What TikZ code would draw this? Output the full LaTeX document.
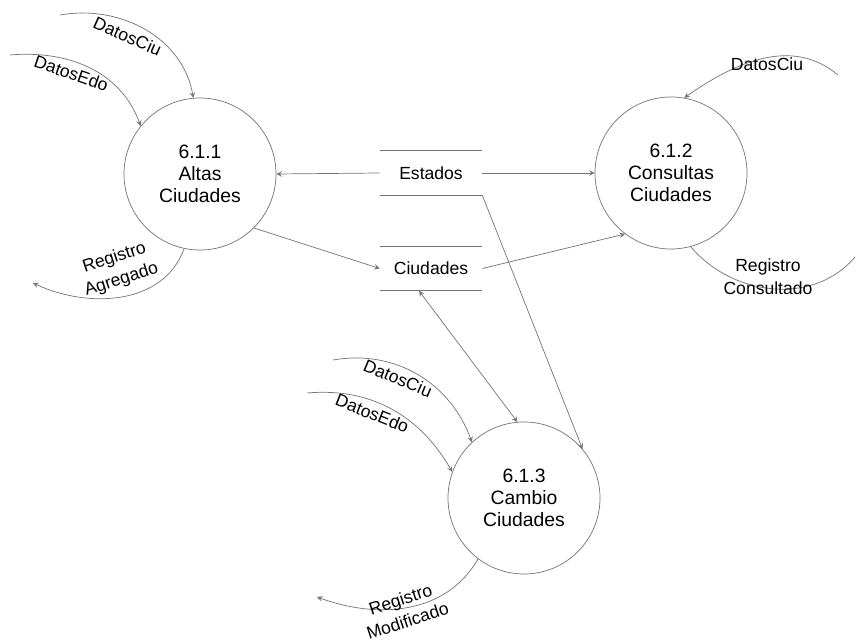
\documentclass[tikz,border=0pt]{standalone}
\usepackage{fontspec}
\setmainfont{Liberation Sans}
\usepackage{tikz}
\usetikzlibrary{arrows, positioning}
\tikzstyle{process} = [circle, draw=black!55, minimum size=3.04cm, inner sep=0pt, align=center, font=\fontsize{11}{12.5}\selectfont]
\tikzstyle{store} = [minimum width=2.04cm, minimum height=0.88cm, font=\fontsize{10}{12}\selectfont]
\tikzstyle{flow} = [draw=black!55, ->, >=stealth]
\tikzstyle{lbl} = [font=\fontsize{10}{13}\selectfont, align=center, inner sep=1pt]

\begin{document}
\begin{tikzpicture}
\useasboundingbox (0,0) rectangle (17.12,12.84);

% Processes
\node[process] (altas) at (4.00,9.36) {6.1.1\\Altas\\Ciudades};
\node[process] (consultas) at (13.42,9.38) {6.1.2\\Consultas\\Ciudades};
\node[process] (cambio) at (10.48,2.88) {6.1.3\\Cambio\\Ciudades};

% Data stores
\node[store] (estados) at (8.62,9.38) {Estados};
\node[store] (ciudades) at (8.62,7.47) {Ciudades};
\foreach \s in {estados, ciudades} {
  \draw[black!55] (\s.north west) -- (\s.north east);
  \draw[black!55] (\s.south west) -- (\s.south east);
}

% Flows between processes and stores
\draw[flow] (estados.west) -- (altas.east);
\draw[flow] (estados.east) -- (consultas.west);
\draw[flow] (altas.-45) -- (ciudades.west);
\draw[flow] (ciudades.east) -- (consultas.233);
\draw[flow] (estados.south east) -- (cambio.40);
\draw[flow, <->] ([xshift=-0.24cm]ciudades.south) -- (cambio.95);

% Flows of 6.1.1
\coordinate (a1) at (1.20,12.54);
\coordinate (a2) at (0.20,11.74);
\coordinate (a3) at (0.66,7.18);
\draw[flow] (a1) to[out=10,in=100] node[lbl, sloped, below=3pt, pos=0.42] {DatosCiu} (altas.95);
\draw[flow] (a2) to[out=5,in=110] node[lbl, sloped, below=2pt, pos=0.4] {DatosEdo} (altas.141);
\draw[flow] (altas.258) to[out=250,in=-25] (a3);
\node[lbl, rotate=18] (agregado) at (2.36,7.46) {Registro\\Agregado};

% Flows of 6.1.2
\coordinate (c1) at (16.76,11.34);
\coordinate (c2) at (17.10,7.70);
\draw[flow] (c1) to[out=140,in=35] (consultas.80);
\node[lbl] (datosciu2) at (15.34,11.56) {DatosCiu};
\draw[black!55] (consultas.-75) to[out=-50,in=230] (c2);
\node[lbl] (consultado) at (15.36,7.30) {Registro\\Consultado};

% Flows of 6.1.3
\coordinate (m1) at (6.66,5.64);
\coordinate (m2) at (6.14,4.98);
\coordinate (m3) at (6.34,0.90);
\draw[flow] (m1) to[out=10,in=110] node[lbl, sloped, below=2pt, pos=0.4] {DatosCiu} (cambio.133);
\draw[flow] (m2) to[out=5,in=120] node[lbl, sloped, below=2pt, pos=0.4] {DatosEdo} (cambio.160);
\draw[flow] (cambio.233) to[out=240,in=-20] (m3);
\node[lbl, rotate=18] (modificado) at (8.08,0.64) {Registro\\Modificado};
\end{tikzpicture}
\end{document}
